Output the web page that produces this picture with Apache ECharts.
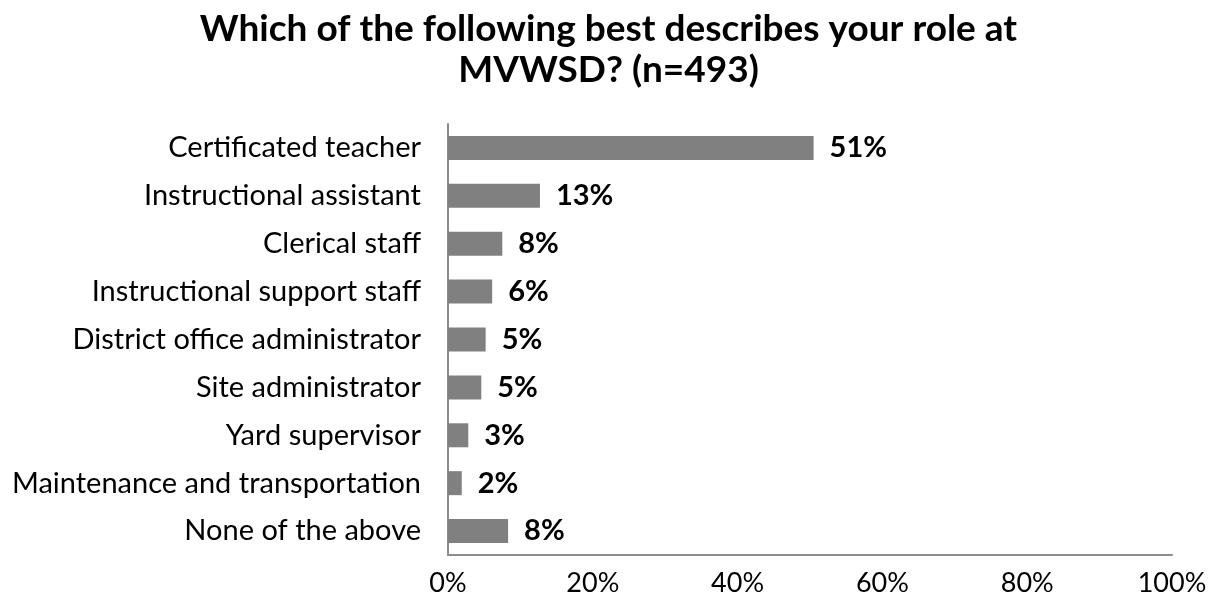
<!DOCTYPE html>
<html><head><meta charset="utf-8">
<script src="https://cdn.jsdelivr.net/npm/echarts@6/dist/echarts.min.js"></script>
<style>html,body{margin:0;padding:0;background:#fff}#c{width:1217px;height:610px}</style>
</head><body><div id="c"></div>
<script>
const categories = ["Certificated teacher","Instructional assistant","Clerical staff","Instructional support staff","District office administrator","Site administrator","Yard supervisor","Maintenance and transportation","None of the above"];
const values = [50.5, 12.7, 7.5, 6.1, 5.2, 4.6, 2.8, 1.9, 8.3];
const xTicks = [0, 20, 40, 60, 80, 100];
const titleText = "Which of the following best describes your role at\nMVWSD? (n=493)";

const chart = echarts.init(document.getElementById('c'));
chart.setOption({
  animation:false,
  title:{text:titleText,left:'center',top:4,
    textStyle:{fontFamily:'Lato',fontWeight:'bold',fontSize:37,color:'#000',lineHeight:41}},
  grid:{left:448,right:45,top:124,bottom:55},
  xAxis:{type:'value',min:xTicks[0],max:xTicks[xTicks.length-1],interval:20,
    axisLine:{show:true,lineStyle:{color:'#8c8c8c',width:2}},axisTick:{show:false},splitLine:{show:false},
    axisLabel:{formatter:'{value}%',margin:15,fontFamily:'Lato',fontSize:27,color:'#000'}},
  yAxis:{type:'category',data:categories,inverse:true,
    axisLine:{show:true,lineStyle:{color:'#8c8c8c',width:2}},axisTick:{show:false},
    axisLabel:{fontFamily:'Lato',fontSize:29,color:'#000',margin:27}},
  series:[{type:'bar',data:values,barWidth:24,itemStyle:{color:'#808080'},
    label:{show:true,position:'right',distance:16,fontFamily:'Lato',fontWeight:'bold',fontSize:29,color:'#000',
      formatter:p=>Math.round(p.value)+'%'}}]
});
</script></body></html>
